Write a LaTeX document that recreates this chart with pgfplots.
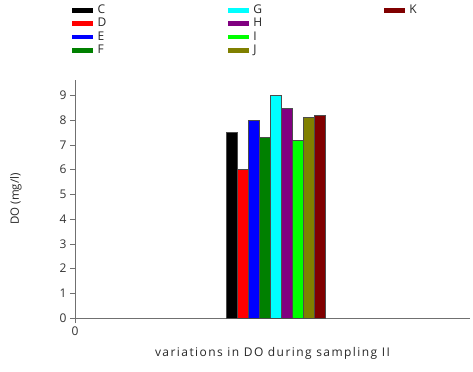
\documentclass[border=0pt]{standalone}
\usepackage{fontspec}
\setmainfont{Open Sans}
\newfontfamily\wide[LetterSpace=12]{Open Sans}
\usepackage{pgfplots}
\pgfplotsset{compat=1.18}
\definecolor{axgray}{HTML}{707070}
\definecolor{cC}{RGB}{0,0,0}
\definecolor{cD}{RGB}{255,0,0}
\definecolor{cE}{RGB}{0,0,255}
\definecolor{cF}{RGB}{0,128,0}
\definecolor{cG}{RGB}{0,255,255}
\definecolor{cH}{RGB}{128,0,128}
\definecolor{cI}{RGB}{0,255,0}
\definecolor{cJ}{RGB}{128,128,0}
\definecolor{cK}{RGB}{128,0,0}
\begin{document}
\begin{tikzpicture}
\begin{axis}[
  name=ax,
  width=395pt, height=238pt, scale only axis,
  xmin=0, xmax=1, ymin=0, ymax=9.62,
  axis lines=left,
  axis line style={axgray, -},
  every tick/.style={axgray},
  tick align=outside,
  major tick length=5pt,
  xtick={0}, xticklabels={0},
  ytick={0,1,...,9},
  /pgf/number format/assume math mode=true,
  tick label style={font=\fontsize{12}{14}\selectfont, text=black!80},
  ybar=0pt, bar width=11.1pt,
  ylabel={DO (mg/l)},
  xlabel={\wide variations in DO during sampling II},
  ylabel style={font=\fontsize{11.5}{13}\selectfont, text=black!85},
  xlabel style={font=\fontsize{12}{14}\selectfont, text=black!85},
  ylabel style={at={([xshift=-59pt]axis description cs:0,0.5)}, anchor=center},
  xlabel style={at={([yshift=-35pt]axis description cs:0.5,0)}, anchor=center},
  clip=false,
  legend image code/.code={\path[#1, draw=none] (0pt,-2.3pt) rectangle (21pt,2.3pt);},
  legend columns=3,
  legend cell align=left,
  legend style={at={([xshift=-6pt,yshift=77pt]axis description cs:0,1)}, anchor=north west,
    draw=none, fill=none, font=\fontsize{12}{13}\selectfont,
    nodes={inner sep=0.5pt, text=black!85, text height=8pt, text depth=1.5pt},
    row sep=2.8pt,
    /tikz/every odd column/.append style={column sep=4pt},
    /tikz/every even column/.append style={column sep=121pt}},
]
\addplot[fill=cC, draw=black!70, forget plot, bar shift=-44.4pt] coordinates {(0.508,7.5)};
\addplot[fill=cD, draw=black!70, forget plot, bar shift=-33.3pt] coordinates {(0.508,6.0)};
\addplot[fill=cE, draw=black!70, forget plot, bar shift=-22.2pt] coordinates {(0.508,8.0)};
\addplot[fill=cF, draw=black!70, forget plot, bar shift=-11.1pt] coordinates {(0.508,7.3)};
\addplot[fill=cG, draw=black!70, forget plot, bar shift=0pt] coordinates {(0.508,9.0)};
\addplot[fill=cH, draw=black!70, forget plot, bar shift=11.1pt] coordinates {(0.508,8.5)};
\addplot[fill=cI, draw=black!70, forget plot, bar shift=22.2pt] coordinates {(0.508,7.2)};
\addplot[fill=cJ, draw=black!70, forget plot, bar shift=33.3pt] coordinates {(0.508,8.1)};
\addplot[fill=cK, draw=black!70, forget plot, bar shift=44.4pt] coordinates {(0.508,8.2)};
\addlegendimage{fill=cC}\addlegendentry{C}
\addlegendimage{fill=cG}\addlegendentry{G}
\addlegendimage{fill=cK}\addlegendentry{K}
\addlegendimage{fill=cD}\addlegendentry{D}
\addlegendimage{fill=cH}\addlegendentry{H}
\addlegendimage{empty legend}\addlegendentry{}
\addlegendimage{fill=cE}\addlegendentry{E}
\addlegendimage{fill=cI}\addlegendentry{I}
\addlegendimage{empty legend}\addlegendentry{}
\addlegendimage{fill=cF}\addlegendentry{F}
\addlegendimage{fill=cJ}\addlegendentry{J}
\end{axis}
\pgfresetboundingbox
\path ([shift={(-75pt,-53pt)}]ax.south west) rectangle ([shift={(3pt,80pt)}]ax.north east);
\end{tikzpicture}
\end{document}
